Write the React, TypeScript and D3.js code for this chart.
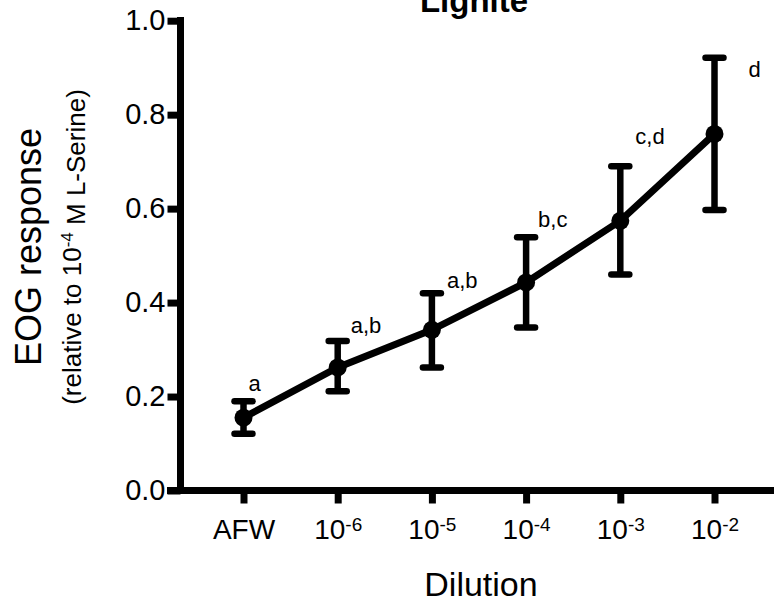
import {useEffect, useRef} from "react";
import * as d3 from "d3";

// dilution steps on the x axis
const categories = ["AFW", "1e-6", "1e-5", "1e-4", "1e-3", "1e-2"];
const tickBase = ["AFW", "10", "10", "10", "10", "10"];
const tickExp = ["", "-6", "-5", "-4", "-3", "-2"];

// normalised EOG response, mean with upper / lower error bar ends
const means = [0.155, 0.262, 0.342, 0.443, 0.574, 0.759];
const upper = [0.19, 0.318, 0.42, 0.539, 0.69, 0.921];
const lower = [0.121, 0.211, 0.262, 0.347, 0.46, 0.597];

// significance letters
const letters = ["a", "a,b", "a,b", "b,c", "c,d", "d"];

const yTicks = [0, 0.2, 0.4, 0.6, 0.8, 1.0];

const font = "'Liberation Sans', Arial, Helvetica, sans-serif";

export default function App() {
  const ref = useRef<SVGSVGElement>(null);

  useEffect(() => {
    const width = 774;
    const height = 606;
    const svg = d3.select(ref.current);
    svg.selectAll("*").remove();
    svg.attr("width", width).attr("height", height);

    const x = d3.scalePoint<string>()
    .domain(categories)
    .range([243.5, 714.5]);

    const y = d3.scaleLinear()
    .domain([0, 1])
    .range([490.5, 20.7]);

    const axisX = 180.5;

    // y axis
    const gy = svg.append("g")
    .attr("transform", `translate(${axisX},0)`)
    .call(d3.axisLeft(y)
        .tickValues(yTicks)
        .tickFormat(d3.format(".1f"))
        .tickSize(13)
        .tickPadding(2)
        .tickSizeOuter(0));
    gy.select(".domain").remove();
    gy.selectAll(".tick line")
    .attr("stroke", "#000")
    .attr("stroke-width", 7);
    gy.selectAll(".tick text")
    .attr("fill", "#000")
    .style("font-family", font)
    .style("font-size", "29px");
    svg.append("line")
    .attr("x1", axisX).attr("x2", axisX)
    .attr("y1", 17).attr("y2", y(0))
    .attr("stroke", "#000")
    .attr("stroke-width", 7);

    // x axis
    const gx = svg.append("g")
    .attr("transform", `translate(0,${y(0)})`)
    .call(d3.axisBottom(x).tickSize(13).tickPadding(16).tickSizeOuter(0));
    gx.select(".domain").remove();
    gx.selectAll(".tick line")
    .attr("stroke", "#000")
    .attr("stroke-width", 7);
    gx.selectAll<SVGTextElement, string>(".tick text")
    .attr("fill", "#000")
    .style("font-family", font)
    .style("font-size", "28px")
    .each(function (_d, i) {
      const t = d3.select(this);
      t.text(null);
      t.append("tspan").text(tickBase[i]);
      if (tickExp[i]) {
        t.append("tspan")
        .attr("dy", "-0.45em")
        .style("font-size", "19px")
        .text(tickExp[i]);
      }
    });
    svg.append("line")
    .attr("x1", 167).attr("x2", width)
    .attr("y1", y(0)).attr("y2", y(0))
    .attr("stroke", "#000")
    .attr("stroke-width", 7);

    // error bars
    const capHalf = 9;
    const bars = svg.append("g").attr("stroke", "#000").attr("stroke-width", 6.5);
    categories.forEach((c, i) => {
      const cx = x(c)!;
      bars.append("line")
      .attr("x1", cx).attr("x2", cx)
      .attr("y1", y(upper[i])).attr("y2", y(lower[i]));
      [upper[i], lower[i]].forEach(v => {
        bars.append("line")
        .attr("x1", cx - capHalf).attr("x2", cx + capHalf)
        .attr("y1", y(v)).attr("y2", y(v))
        .attr("stroke-linecap", "round");
      });
    });

    // mean line
    svg.append("path")
    .datum(means)
    .attr("fill", "none")
    .attr("stroke", "#000")
    .attr("stroke-width", 7)
    .attr("d", d3.line<number>()
        .x((_d, i) => x(categories[i])!)
        .y(d => y(d)));

    svg.append("g")
    .selectAll("circle")
    .data(means)
    .join("circle")
    .attr("cx", (_d, i) => x(categories[i])!)
    .attr("cy", d => y(d))
    .attr("r", 9)
    .attr("fill", "#000");

    // significance letters, placed by hand like the original figure
    const letterOffsets = [[5, -27], [13, -34], [15, -42], [12, -55], [15, -77], [34, -57]];
    svg.append("g")
    .selectAll("text")
    .data(letters)
    .join("text")
    .attr("x", (_d, i) => x(categories[i])! + letterOffsets[i][0])
    .attr("y", (_d, i) => y(means[i]) + letterOffsets[i][1])
    .style("font-family", font)
    .style("font-size", "22px")
    .text(d => d);

    // titles
    svg.append("text")
    .attr("x", 474)
    .attr("y", 12)
    .attr("text-anchor", "middle")
    .style("font-family", font)
    .style("font-size", "33px")
    .style("font-weight", "bold")
    .text("Lignite");

    svg.append("text")
    .attr("x", 481)
    .attr("y", 596)
    .attr("text-anchor", "middle")
    .style("font-family", font)
    .style("font-size", "34px")
    .text("Dilution");

    svg.append("text")
    .attr("transform", "translate(41,247) rotate(-90)")
    .attr("text-anchor", "middle")
    .style("font-family", font)
    .style("font-size", "36px")
    .text("EOG response");

    const sub = svg.append("text")
    .attr("transform", "translate(81,247) rotate(-90)")
    .attr("text-anchor", "middle")
    .style("font-family", font)
    .style("font-size", "26px");
    sub.append("tspan").text("(relative to 10");
    sub.append("tspan").attr("dy", "-0.45em").style("font-size", "17px").text("-4");
    sub.append("tspan").attr("dy", "0.45em").text(" M L-Serine)");
  }, []);

  return <svg ref={ref} style={{position: "absolute", left: 0, top: 0}}/>;
}
